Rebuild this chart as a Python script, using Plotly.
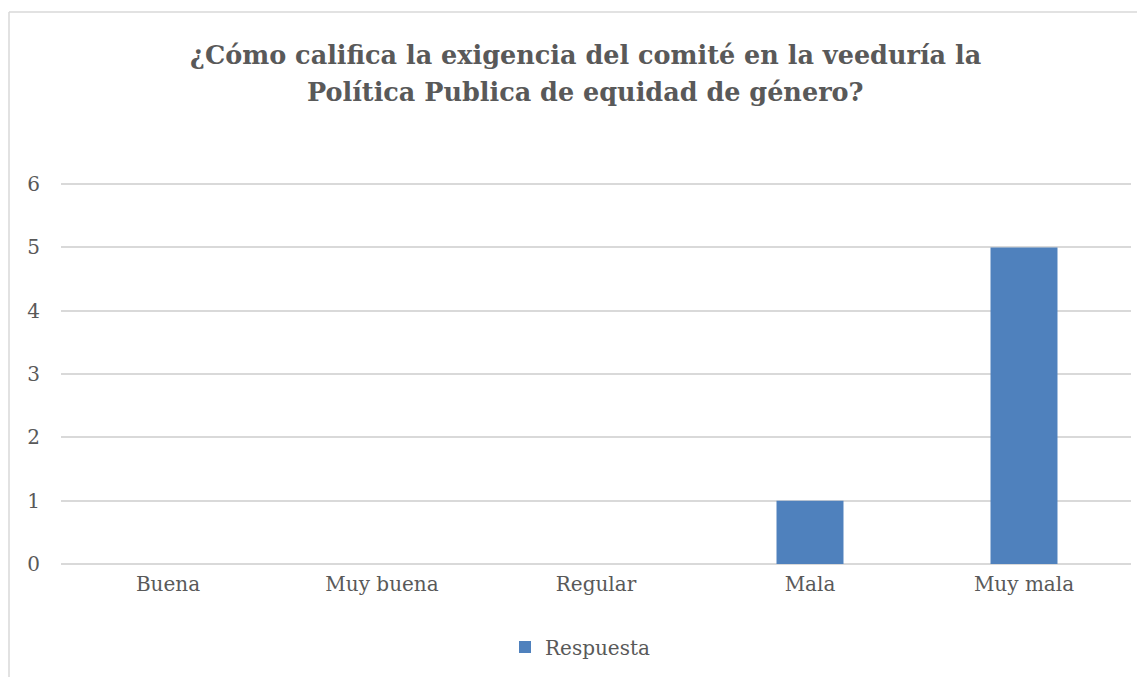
import plotly.graph_objects as go

categories = ["Buena", "Muy buena", "Regular", "Mala", "Muy mala"]
values = [0, 0, 0, 1, 5]
series_name = "Respuesta"
title_lines = ["¿Cómo califica la exigencia del comité en la veeduría la",
               "Política Publica de equidad de género?"]
y_ticks = [0, 1, 2, 3, 4, 5, 6]

# page body adds 8px offset; figure sized to fit window
W, H = 1137, 669
L, T = 53, 173
plot_r, plot_b = 1123, 556
R, B = W - plot_r, H - plot_b
pw = plot_r - L
ph = plot_b - T

font_family = "DejaVu Serif, Liberation Serif, serif"
txt = "#595959"
grid = "#D9D9D9"

fig = go.Figure()
fig.add_trace(go.Bar(x=categories, y=values, name=series_name,
                     marker=dict(color="#4F81BD", line=dict(width=0)),
                     showlegend=True))

# chart border (left and top visible)
bx = (1 - L) / pw
ty = (plot_b - 4) / ph
fig.add_shape(type="line", xref="paper", yref="paper", x0=bx, x1=bx, y0=-2, y1=ty,
              line=dict(color=grid, width=1.5))
fig.add_shape(type="line", xref="paper", yref="paper", x0=bx, x1=1.2, y0=ty, y1=ty,
              line=dict(color=grid, width=1.5))

title_cx = (577 - L) / pw
for line, ymid in zip(title_lines, [47, 84]):
    fig.add_annotation(text="<b>" + line + "</b>", xref="paper", yref="paper",
                       x=title_cx, y=(plot_b - ymid) / ph, xanchor="center", yanchor="middle",
                       showarrow=False, font=dict(family=font_family, size=25.5, color=txt))

fig.update_layout(
    width=W, height=H,
    margin=dict(l=L, r=R, t=T, b=B),
    paper_bgcolor="white", plot_bgcolor="white",
    font=dict(family=font_family, color=txt, size=20),
    bargap=0.687,
    xaxis=dict(showgrid=False, showline=False, ticks="", tickfont=dict(size=20, color=txt),
               ticklabelstandoff=6),
    yaxis=dict(range=[0, 6.05], tickvals=y_ticks, showgrid=True,
               gridcolor=grid, gridwidth=1.5,
               zeroline=True, zerolinecolor=grid, zerolinewidth=1.5,
               showline=False, ticks="", tickfont=dict(size=20, color=txt), ticklabelstandoff=20),
    legend=dict(orientation="h", x=(542 - 45) / W, xanchor="left", xref="container",
                y=1 - 639 / H, yref="container", yanchor="middle", font=dict(size=20, color=txt)),
)

fig.write_html("out.html")
